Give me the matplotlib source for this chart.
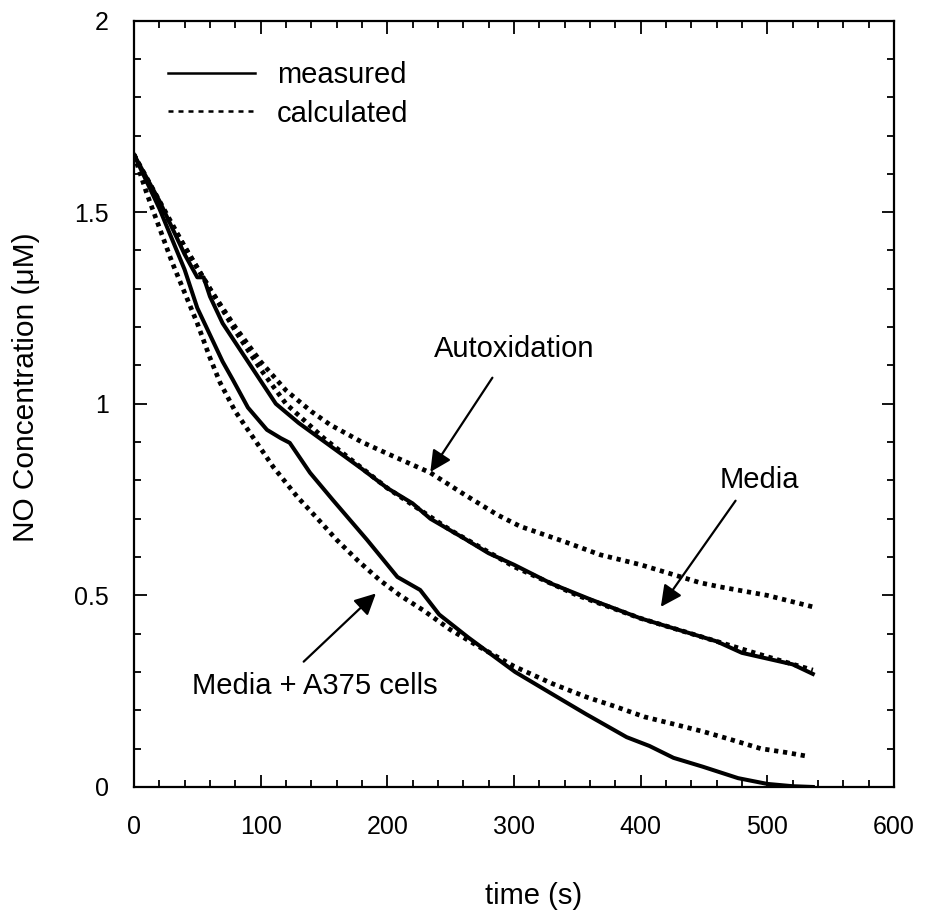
import matplotlib
matplotlib.use("Agg")
import matplotlib.pyplot as plt
from matplotlib.lines import Line2D
from matplotlib.ticker import MultipleLocator

plt.rcParams['font.family'] = ['Liberation Sans', 'DejaVu Sans']

# media alone, measured
t_media_meas = [0, 10, 20, 30, 40, 50, 55, 60, 70, 80, 90, 100, 112, 130, 155, 180, 200, 220,
                234, 260, 280, 300, 330, 360, 400, 430, 460, 480, 500, 520, 536]
c_media_meas = [1.65, 1.59, 1.53, 1.46, 1.39, 1.33, 1.33, 1.28, 1.21, 1.16, 1.11, 1.06, 1.0, 0.95,
                0.89, 0.83, 0.78, 0.74, 0.70, 0.65, 0.61, 0.58, 0.53, 0.49, 0.44, 0.41, 0.38,
                0.35, 0.335, 0.32, 0.295]

# media alone, calculated
t_media_calc = [0, 20, 40, 60, 80, 100, 120, 150, 200, 250, 300, 350, 400, 450, 500, 536]
c_media_calc = [1.65, 1.53, 1.41, 1.30, 1.19, 1.09, 1.00, 0.91, 0.78, 0.67, 0.575, 0.50, 0.44,
                0.39, 0.34, 0.305]

# autoxidation, calculated
t_autox = [0, 20, 40, 60, 80, 100, 120, 140, 155, 180, 200, 234, 260, 287, 305, 340, 368, 400,
           447, 463, 500, 536]
c_autox = [1.65, 1.52, 1.41, 1.30, 1.20, 1.11, 1.035, 0.98, 0.945, 0.90, 0.87, 0.82, 0.765, 0.71,
           0.68, 0.64, 0.606, 0.58, 0.533, 0.522, 0.50, 0.47]

# media + A375 cells, measured
t_cells_meas = [0, 10, 20, 30, 40, 50, 60, 70, 78, 90, 105, 116, 123, 139, 157, 184, 208, 226,
                241, 264, 301, 333, 357, 389, 407, 426, 449, 477, 500, 520, 536]
c_cells_meas = [1.65, 1.58, 1.51, 1.43, 1.35, 1.25, 1.18, 1.11, 1.063, 0.99, 0.932, 0.91, 0.898,
                0.82, 0.749, 0.645, 0.548, 0.514, 0.45, 0.39, 0.30, 0.237, 0.19, 0.13, 0.107,
                0.076, 0.053, 0.023, 0.008, 0.002, 0.0]

# media + A375 cells, calculated
t_cells_calc = [0, 10, 20, 30, 40, 50, 60, 68, 80, 97, 110, 129, 145, 160, 177, 194, 210, 228,
                250, 273, 300, 330, 357, 380, 403, 425, 449, 470, 495, 515, 532]
c_cells_calc = [1.65, 1.55, 1.46, 1.37, 1.29, 1.21, 1.12, 1.055, 0.98, 0.898, 0.835, 0.757, 0.70,
                0.645, 0.59, 0.54, 0.50, 0.462, 0.41, 0.365, 0.315, 0.27, 0.235, 0.21, 0.183,
                0.165, 0.145, 0.125, 0.10, 0.09, 0.08]

fig = plt.figure(figsize=(9.29, 9.17), dpi=100)
ax = fig.add_axes([0.1442, 0.1418, 0.818, 0.8358])

dot = dict(color='black', lw=3.4, linestyle=(0, (0.9, 1.0)), dash_capstyle='butt')
solid = dict(color='black', lw=2.9, solid_joinstyle='round')

ax.plot(t_autox, c_autox, **dot)
ax.plot(t_media_calc, c_media_calc, **dot)
ax.plot(t_cells_calc, c_cells_calc, **dot)
ax.plot(t_media_meas, c_media_meas, **solid)
ax.plot(t_cells_meas, c_cells_meas, **solid)

ax.set_xlim(0, 600)
ax.set_ylim(0, 2)
ax.xaxis.set_major_locator(MultipleLocator(100))
ax.xaxis.set_minor_locator(MultipleLocator(20))
ax.yaxis.set_minor_locator(MultipleLocator(0.1))
ax.set_yticks([0, 0.5, 1, 1.5, 2])
ax.set_yticklabels(['0', '0.5', '1', '1.5', '2'])

ax.tick_params(which='both', direction='in', top=True, right=True, width=1.3, labelsize=18)
ax.tick_params(axis='x', which='major', length=9, pad=20)
ax.tick_params(axis='y', which='major', length=9, pad=18)
ax.tick_params(which='minor', length=5)
for s in ax.spines.values():
    s.set_linewidth(1.6)

ax.set_xlabel('time (s)', fontsize=21)
ax.xaxis.set_label_coords(0.526, -0.124)
ax.set_ylabel('NO Concentration (\u03bcM)', fontsize=21.5)
ax.yaxis.set_label_coords(-0.124, 0.522)

handles = [Line2D([], [], color='black', lw=1.8),
           Line2D([], [], color='black', lw=1.8, linestyle=(0, (2, 2)))]
ax.legend(handles, ['measured', 'calculated'], loc='upper left', frameon=False, fontsize=21,
          handlelength=3.0, handletextpad=0.75, labelspacing=0.35,
          bbox_to_anchor=(0.01, 0.981))

arrow = dict(arrowstyle='-|>', color='black', lw=1.6, mutation_scale=32, shrinkA=0, shrinkB=0)
ax.annotate('', xy=(234, 0.822), xytext=(283, 1.068), arrowprops=arrow)
ax.text(300, 1.144, 'Autoxidation', fontsize=21, ha='center', va='center')
ax.annotate('', xy=(416, 0.47), xytext=(475, 0.747), arrowprops=arrow)
ax.text(494, 0.80, 'Media', fontsize=21, ha='center', va='center')
ax.annotate('', xy=(191, 0.505), xytext=(134, 0.327), arrowprops=arrow)
ax.text(143, 0.264, 'Media + A375 cells', fontsize=21, ha='center', va='center')

fig.savefig('out.png', dpi=100)
